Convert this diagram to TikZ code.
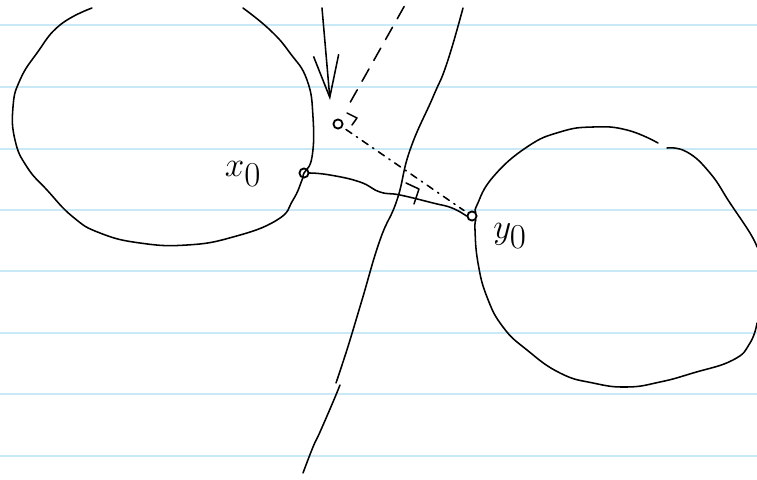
\documentclass[tikz,border=0pt]{standalone}
\usetikzlibrary{arrows.meta, calc}
\definecolor{ruleblue}{RGB}{202,233,247}
\tikzset{
  ink/.style={draw=black, line width=1.1pt, line cap=round, line join=round},
  ruling/.style={draw=ruleblue, line width=1.3pt},
  dot/.style={circle, draw=black, line width=1.3pt, inner sep=0pt, minimum size=6.5pt},
  handlabel/.style={font=\fontsize{36}{38}\selectfont, inner sep=0pt},
  longdash/.style={dash pattern=on 10pt off 7pt},
  dashdotted/.style={dash pattern=on 5pt off 4pt on 1pt off 4pt},
}

\begin{document}
\begin{tikzpicture}[
  x=0.025cm, y=-0.025cm,
  barb/.style={-{Straight Barb[length=30pt, width=18pt, line width=1.1pt]}},
]
  \useasboundingbox (0,0) rectangle (757,480);
  % ruled paper
  \foreach \ry in {25,87,149,210,271,333,394,456}
    \draw[ruling] (0,\ry) -- (757,\ry);

  % points
  \node[dot] (x0) at (304,173) {};
  \node[dot] (p) at (338,124) {};
  \node[dot] (y0) at (472,216) {};
  \node[handlabel] (xlabel) at (243,174) {$x_0$};
  \node[handlabel] (ylabel) at (510,236) {$y_0$};

  \coordinate (atail) at (322,8);
  \coordinate (atip) at (330,100);
  \coordinate (ptop) at (405,5);
  \coordinate (foot) at (404,193);

  % left set
  \draw[ink] plot[smooth, tension=0.8] coordinates {
    (92,8) (60,25) (37,53) (20,80) (13,107) (15,140) (27,167) (47,190)
    (73,217) (100,233) (140,243) (187,245) (233,237) (277,220) (293,200)
    (302,180) (x0) (312,157) (313,117) (307,80) (290,53) (270,30) (243,8)};

  % right set
  \draw[ink] plot[smooth, tension=0.8] coordinates {
    (y0.north east) (477,205) (493,177) (527,147) (560,132) (593,127)
    (627,130) (658,143)};
  \draw[ink] plot[smooth, tension=0.8] coordinates {
    (667,148) (687,152) (710,173) (730,203) (750,233) (757,247)};
  \draw[ink] plot[smooth, tension=0.8] coordinates {
    (757,323) (750,343) (733,360) (693,373) (660,382) (627,387) (593,383)
    (560,373) (527,350) (503,327) (487,297) (478,263) (475,230) (y0.south east)};

  % separating hyperplane
  \draw[ink] plot[smooth, tension=0.8] coordinates {
    (463,8) (447,63) (433,97) (410,150) (397,200) (380,240) (362,300)
    (350,340) (343,362) (336,383)};
  \draw[ink] plot[smooth, tension=0.8] coordinates {
    (340,385) (333,402) (320,432) (313,447) (303,473)};

  % projection arrow and normal
  \draw[ink, barb] (atail) -- (atip);
  \draw[ink, longdash, shorten <=14pt] (p) -- (ptop);
  \draw[ink, dashdotted, shorten <=3pt, shorten >=3pt] (p) -- (y0);
  \draw[ink] ($(p)+(9,-11)$) -- ($(p)+(19,-6)$) -- ($(p)+(14,1)$);

  % segment x0 -- y0
  \draw[ink] plot[smooth, tension=0.8] coordinates {
    (x0.east) (330,175) (360,182) (380,192) (400,195) (433,203) (452,208) (y0.west)};
  \draw[ink] ($(foot)+(2,-10)$) -- ($(foot)+(15,-4)$) -- ($(foot)+(10,11)$);
\end{tikzpicture}
\end{document}
